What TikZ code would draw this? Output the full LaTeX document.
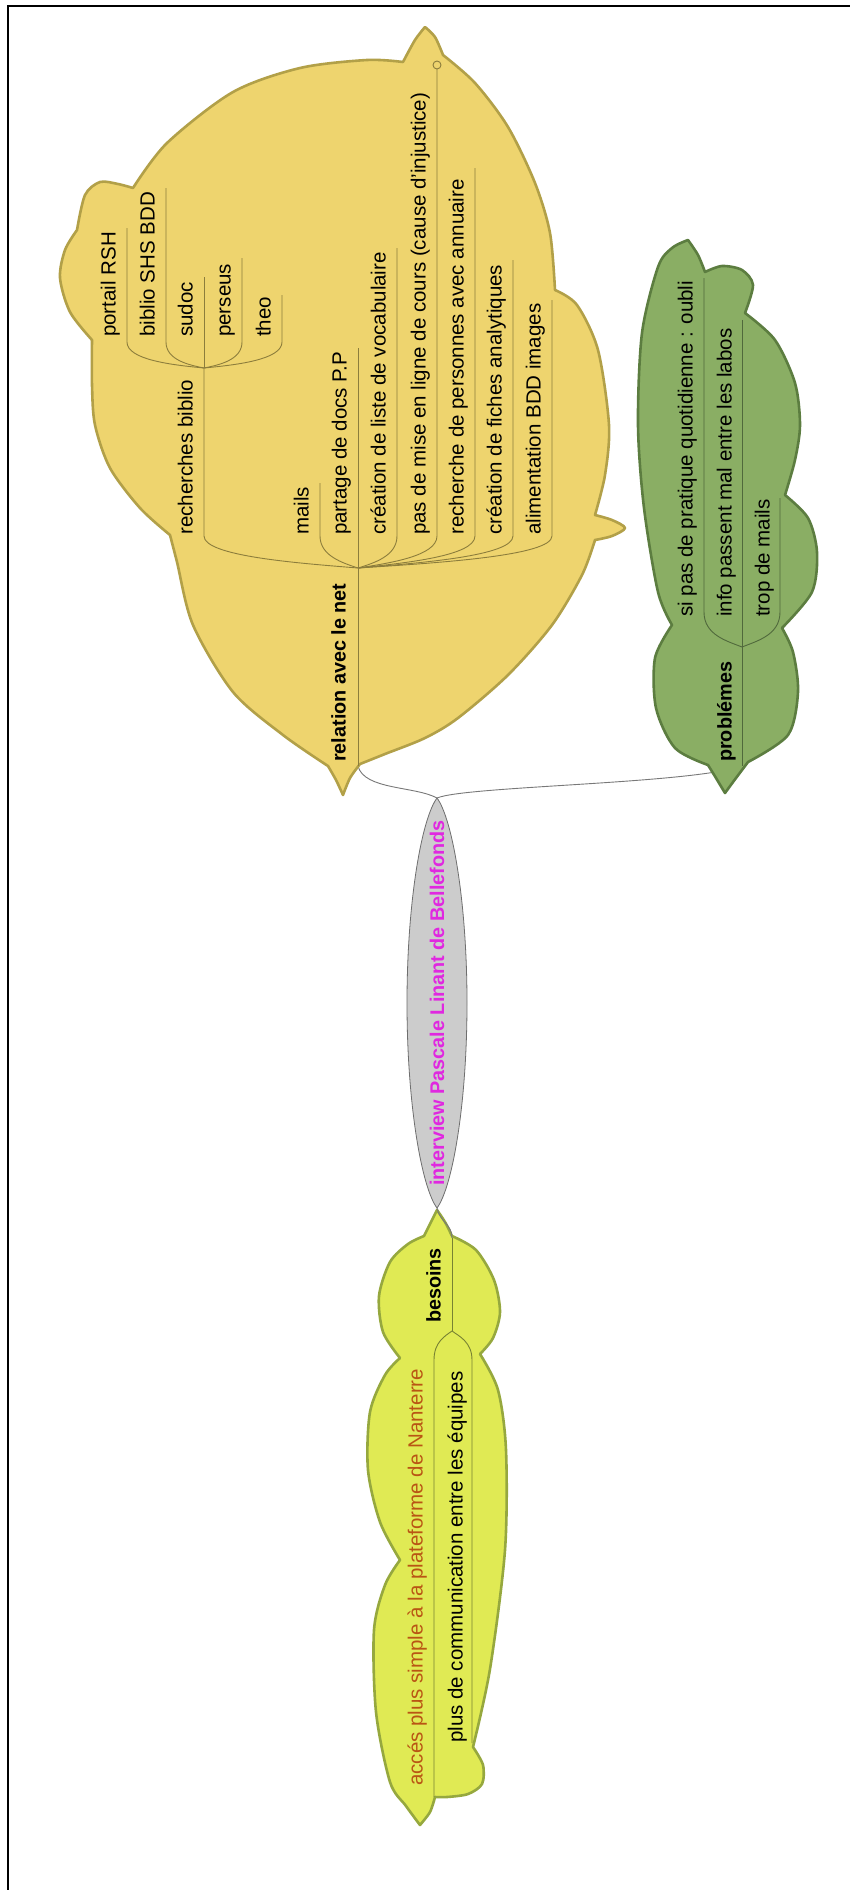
\documentclass[tikz,border=0pt]{standalone}
\usepackage{fontspec}
\setmainfont{Liberation Sans}
\usetikzlibrary{shapes.geometric}
\definecolor{relFill}{RGB}{238,212,110}
\definecolor{relDraw}{RGB}{178,160,72}
\definecolor{relLine}{RGB}{140,125,60}
\definecolor{pbFill}{RGB}{138,174,100}
\definecolor{pbDraw}{RGB}{92,125,64}
\definecolor{pbLine}{RGB}{80,105,60}
\definecolor{beFill}{RGB}{224,234,84}
\definecolor{beDraw}{RGB}{150,168,62}
\definecolor{beLine}{RGB}{120,130,50}
\definecolor{ctFill}{RGB}{204,204,204}
\definecolor{ctDraw}{RGB}{110,110,110}
\definecolor{ctText}{RGB}{224,40,224}
\definecolor{connCol}{RGB}{120,120,120}
\definecolor{accText}{RGB}{185,85,20}
\begin{document}
\begin{tikzpicture}[x=1pt,y=-1pt,
  lbl/.style={rotate=90, anchor=mid west, inner sep=0pt, font=\fontsize{20.5}{24}\selectfont},
  hub/.style={rotate=90, anchor=mid west, inner sep=0pt, font=\fontsize{19.8}{24}\selectfont\bfseries},
  blob/.style={line width=2.6pt, line join=round},
  rl/.style={draw=relLine, line width=0.9pt},
  pl/.style={draw=pbLine, line width=0.9pt},
  bl/.style={draw=beLine, line width=0.9pt},
  conn/.style={draw=connCol, line width=0.9pt}
]
\useasboundingbox (0,0) rectangle (850,1890);
\fill[white] (0,0) rectangle (850,1890);
\draw[black, line width=2pt] (8,1890) -- (8,6) -- (850,6);

% junction coordinates
\coordinate (jtop) at (437,798);
\coordinate (jbot) at (437,1208);
\coordinate (relEnd) at (358,766);
\coordinate (pbEnd) at (742,766);
\coordinate (beTop) at (452,1238);
\coordinate (jrel) at (358,568);
\coordinate (jrech) at (204,368);
\coordinate (jpb) at (742,647);
\coordinate (jbe) at (452,1331);

% main connectors
\draw[conn] (jtop) .. controls (415,786) and (364,790) .. (relEnd);
\draw[conn] (jtop) .. controls (465,786) and (690,784) .. (pbEnd);

% relation blob
\draw[blob, draw=relDraw, fill=relFill] (343,795)
 -- plot[smooth] coordinates {(343,795) (336,780) (328,766)}
 -- plot[smooth] coordinates {(328,766) (283,735) (233,692) (193,625) (177,562) (170,535)}
 -- plot[smooth] coordinates {(170,535) (140,508) (110,468) (95,425) (92,385) (92,340)}
 -- plot[smooth] coordinates {(92,340) (70,312) (60,278) (65,250) (77,230)}
 -- plot[smooth] coordinates {(77,230) (85,195) (100,182) (118,184) (133,188)}
 -- plot[smooth] coordinates {(133,188) (167,143) (233,92) (300,68) (367,60) (403,62)}
 -- plot[smooth] coordinates {(403,62) (415,40) (425,27)}
 -- plot[smooth] coordinates {(425,27) (435,37) (443,55)}
 -- plot[smooth] coordinates {(443,55) (475,83) (508,127) (535,183) (550,233) (555,290)}
 -- plot[smooth] coordinates {(555,290) (577,305) (598,350) (609,425) (605,475) (595,515)}
 -- plot[smooth] coordinates {(595,515) (612,520) (625,528) (612,536) (595,540)}
 -- plot[smooth] coordinates {(595,540) (582,575) (552,625) (508,675) (458,718) (425,738) (385,754) (360,764)}
 -- plot[smooth] coordinates {(360,764) (350,778) (343,795)}
 -- cycle;

% problemes blob
\draw[blob, draw=pbDraw, fill=pbFill] (725,793)
 -- plot[smooth] coordinates {(725,793) (716,778) (708,765)}
 -- plot[smooth] coordinates {(708,765) (675,748) (656,708) (655,658) (672,625)}
 -- plot[smooth] coordinates {(672,625) (658,592) (644,508) (638,425) (642,333) (658,267) (672,248) (688,240)}
 -- plot[smooth] coordinates {(688,240) (698,255) (705,272)}
 -- plot[smooth] coordinates {(705,272) (722,266) (742,270) (753,285) (745,313)}
 -- plot[smooth] coordinates {(745,313) (775,340) (795,383) (800,425) (795,460) (785,495)}
 -- plot[smooth] coordinates {(785,495) (808,518) (817,552) (812,592) (782,628)}
 -- plot[smooth] coordinates {(782,628) (793,652) (798,692) (788,735) (748,762)}
 -- plot[smooth] coordinates {(748,762) (736,778) (725,793)}
 -- cycle;

% besoins blob
\draw[blob, draw=beDraw, fill=beFill] (437,1210)
 -- plot[smooth] coordinates {(437,1210) (445,1222) (452,1236)}
 -- plot[smooth] coordinates {(452,1236) (476,1250) (494,1280) (500,1312) (493,1338) (480,1354)}
 -- plot[smooth] coordinates {(480,1354) (498,1390) (506,1450) (505,1550) (490,1669) (473,1747)}
 -- plot[smooth] coordinates {(473,1747) (483,1765) (482,1784) (468,1794) (447,1797) (435,1797)}
 -- plot[smooth] coordinates {(435,1797) (430,1812) (420,1825)}
 -- plot[smooth] coordinates {(420,1825) (406,1806) (390,1782) (376,1712) (374,1630) (385,1585) (400,1560)}
 -- plot[smooth] coordinates {(400,1560) (380,1522) (368,1470) (370,1412) (385,1375) (400,1358)}
 -- plot[smooth] coordinates {(400,1358) (383,1332) (379,1296) (390,1262) (408,1244) (424,1236)}
 -- plot[smooth] coordinates {(424,1236) (431,1222) (437,1210)}
 -- cycle;

% central node (elongated ellipse with tapered ends)
\coordinate (ct) at (437,1003);
\draw[draw=ctDraw, fill=ctFill, line width=0.8pt] (jtop)
  .. controls (452,818) and (467,900) .. (467,1003)
  .. controls (467,1106) and (452,1188) .. (jbot)
  .. controls (422,1188) and (407,1106) .. (407,1003)
  .. controls (407,900) and (422,818) .. (jtop) -- cycle;
\node[rotate=90, inner sep=0pt, text=ctText, font=\fontsize{19.8}{24}\selectfont\bfseries] (ctlabel) at (ct) {interview Pascale Linant de Bellefonds};
\draw[conn] (jbot) .. controls (440,1222) and (452,1224) .. (beTop);

% relation tree
\draw[rl] (jrel) -- (relEnd);
\node[hub] (rel) at (343,762) {relation avec le net};

\coordinate (rechT) at (204,536);
\draw[rl] (jrech) -- (rechT) .. controls (204,556) and (296,563) .. (jrel);
\node[lbl] (rech) at (190,535) {recherches biblio};

\coordinate (portT) at (127,228);
\draw[rl] (portT) -- (127,342) .. controls (127,360) and (173,365) .. (jrech);
\node[lbl] (port) at (113,337) {portail RSH};
\coordinate (shsT) at (166,188);
\draw[rl] (shsT) -- (166,342) .. controls (166,360) and (189,365) .. (jrech);
\node[lbl] (shs) at (152,337) {biblio SHS BDD};
\coordinate (sudT) at (204,277);
\draw[rl] (sudT) -- (jrech);
\node[lbl] (sud) at (190,337) {sudoc};
\coordinate (perT) at (242,258);
\draw[rl] (perT) -- (242,342) .. controls (242,360) and (219,365) .. (jrech);
\node[lbl] (per) at (228,337) {perseus};
\coordinate (theoT) at (282,295);
\draw[rl] (theoT) -- (282,342) .. controls (282,360) and (235,365) .. (jrech);
\node[lbl] (theo) at (268,337) {theo};

\coordinate (mailsT) at (320,483);
\draw[rl] (mailsT) -- (320,536) .. controls (320,556) and (343,563) .. (jrel);
\node[lbl] (mails) at (306,535) {mails};
\coordinate (partT) at (358,348);
\draw[rl] (partT) -- (jrel);
\node[lbl] (part) at (344,535) {partage de docs P.P};
\coordinate (vocT) at (397,248);
\draw[rl] (vocT) -- (397,536) .. controls (397,556) and (374,563) .. (jrel);
\node[lbl] (voc) at (383,535) {création de liste de vocabulaire};
\coordinate (pasT) at (437,69);
\draw[rl] (pasT) -- (437,536) .. controls (437,556) and (390,563) .. (jrel);
\draw[rl, fill=relFill] (437,65) circle (4pt);
\node[lbl] (pas) at (423,535) {pas de mise en ligne de cours (cause d'injustice)};
\coordinate (annT) at (475,168);
\draw[rl] (annT) -- (475,536) .. controls (475,556) and (405,563) .. (jrel);
\node[lbl] (ann) at (461,535) {recherche de personnes avec annuaire};
\coordinate (ficT) at (513,260);
\draw[rl] (ficT) -- (513,536) .. controls (513,556) and (420,563) .. (jrel);
\node[lbl] (fic) at (499,535) {création de fiches analytiques};
\coordinate (aliT) at (552,300);
\draw[rl] (aliT) -- (552,536) .. controls (552,556) and (436,563) .. (jrel);
\node[lbl] (ali) at (538,535) {alimentation BDD images};

% problemes tree
\draw[pl] (jpb) -- (pbEnd);
\node[hub] (pb) at (729,762) {problémes};
\coordinate (siT) at (704,278);
\draw[pl] (siT) -- (704,612) .. controls (704,635) and (727,641) .. (jpb);
\node[lbl] (si) at (690,617) {si pas de pratique quotidienne : oubli};
\coordinate (infoT) at (742,320);
\draw[pl] (infoT) -- (jpb);
\node[lbl] (info) at (729,617) {info passent mal entre les labos};
\coordinate (tropT) at (780,498);
\draw[pl] (tropT) -- (780,612) .. controls (780,635) and (757,641) .. (jpb);
\node[lbl] (trop) at (767,617) {trop de mails};

% besoins tree
\draw[bl] (beTop) -- (jbe);
\node[hub] (be) at (438,1323) {besoins};
\coordinate (accB) at (434,1797);
\draw[bl] (accB) -- (434,1360) .. controls (434,1342) and (445,1336) .. (jbe);
\node[lbl, text=accText] (acc) at (420,1786) {accés plus simple à la plateforme de Nanterre};
\coordinate (comB) at (472,1743);
\draw[bl] (comB) -- (472,1360) .. controls (472,1342) and (459,1336) .. (jbe);
\node[lbl] (com) at (460,1743) {plus de communication entre les équipes};
\end{tikzpicture}
\end{document}
